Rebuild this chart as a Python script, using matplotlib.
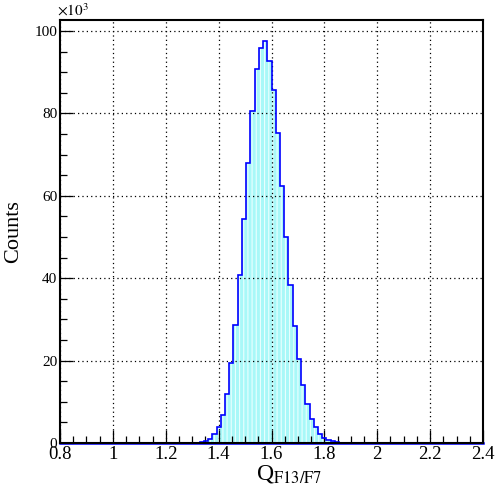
import numpy as np
import matplotlib
matplotlib.use('Agg')
import matplotlib.pyplot as plt
from matplotlib.ticker import MultipleLocator, FuncFormatter

plt.rcParams['font.family'] = ['Liberation Serif', 'DejaVu Serif']
plt.rcParams['mathtext.fontset'] = 'stix'
plt.rcParams['hatch.linewidth'] = 0.8

# ── Histogram data: 100 bins over [0.8, 2.4], counts in thousands ──
X_LO, X_HI, N_BINS = 0.8, 2.4, 100
FIRST_BIN = 32
counts_k = [0.1, 0.3, 0.5, 0.9, 2.1, 4.0, 6.8, 12.0, 19.5, 28.6,
            40.9, 54.3, 68.0, 80.7, 90.7, 96.0, 97.7, 92.8, 85.6, 75.2,
            62.4, 50.0, 38.3, 28.4, 20.5, 14.2, 9.4, 5.8, 3.8, 2.3,
            1.3, 0.8, 0.4, 0.2, 0.1]
x_ticks = [0.8, 1.0, 1.2, 1.4, 1.6, 1.8, 2.0, 2.2, 2.4]
y_ticks = [0, 20, 40, 60, 80, 100]

edges = np.linspace(X_LO, X_HI, N_BINS + 1)
vals = np.zeros(N_BINS)
vals[FIRST_BIN:FIRST_BIN + len(counts_k)] = counts_k

LINE = '#0000ff'
FILL = '#a8f8f8'

fig = plt.figure(figsize=(4.95, 4.97), dpi=100)
ax = fig.add_axes([60 / 495, 54 / 497, 423 / 495, 423 / 497])

ax.stairs(vals, edges, fill=True, facecolor=FILL, edgecolor='none', zorder=2)
ax.stairs(vals, edges, fill=True, facecolor='none', edgecolor='#eaffff',
          hatch='||||', linewidth=0, zorder=2.1)
ax.stairs(vals, edges, color=LINE, linewidth=1.2, baseline=None, zorder=3)
ax.plot([X_LO, X_HI], [0, 0], color=LINE, lw=1.8, zorder=3.5, clip_on=False)

ax.set_xlim(X_LO, X_HI)
ax.set_ylim(0, 102.7)
ax.set_xticks(x_ticks)
ax.set_yticks(y_ticks)
ax.xaxis.set_minor_locator(MultipleLocator(0.05))
ax.yaxis.set_minor_locator(MultipleLocator(5))
ax.xaxis.set_major_formatter(FuncFormatter(lambda v, p: f'{v:g}'))
ax.yaxis.set_major_formatter(FuncFormatter(lambda v, p: f'{v:g}'))

ax.tick_params(which='both', direction='in', top=False, right=False, width=0.9)
ax.tick_params(which='major', length=9.5)
ax.tick_params(which='minor', length=5)
ax.tick_params(axis='x', labelsize=13.5, pad=2)
ax.tick_params(axis='y', labelsize=11, pad=2)

ax.grid(True, which='major', color='black', linestyle=(0, (1, 2.5)), linewidth=0.9, zorder=1)
ax.set_axisbelow(False)
for s in ax.spines.values():
    s.set_linewidth(1.5)
    s.set_zorder(4)

ax.set_ylabel('Counts', fontsize=16, labelpad=8)
fig.text(289 / 495, 1 - 474 / 497, r'Q$_{\mathrm{F13/F7}}$', fontsize=17,
         ha='center', va='center')
fig.text(57 / 495, 1 - 10 / 497, r'$\times10^{3}$', fontsize=11,
         ha='left', va='center')

fig.savefig('out.png', dpi=100)
